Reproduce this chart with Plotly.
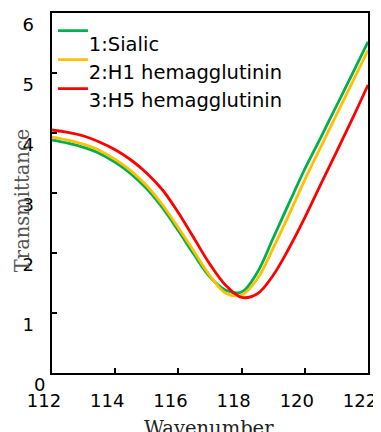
import plotly.graph_objects as go

# Data
wavenumber = [112, 112.5, 113, 113.5, 114, 114.5, 115, 115.5, 116, 116.5, 117,
              117.5, 118, 118.5, 119, 119.5, 120, 120.5, 121, 121.5, 122]
sialic = [3.88, 3.83, 3.76, 3.66, 3.51, 3.32, 3.07, 2.75, 2.37, 1.97, 1.60,
          1.38, 1.35, 1.68, 2.25, 2.83, 3.40, 3.92, 4.45, 4.98, 5.52]
h1 = [3.93, 3.88, 3.81, 3.71, 3.56, 3.37, 3.12, 2.80, 2.42, 2.02, 1.62,
      1.33, 1.30, 1.57, 2.08, 2.64, 3.22, 3.76, 4.30, 4.84, 5.38]
h5 = [4.05, 4.01, 3.95, 3.85, 3.72, 3.55, 3.33, 3.05, 2.67, 2.24, 1.81,
      1.46, 1.26, 1.32, 1.63, 2.08, 2.59, 3.14, 3.68, 4.23, 4.80]

series_names = ["1:Sialic", "2:H1 hemagglutinin", "3:H5 hemagglutinin"]
series_values = [sialic, h1, h5]
series_colors = ["#00b050", "#ffc000", "#ff0000"]

x_ticks = [112, 114, 116, 118, 120, 122]
x_tick_labels = ["112", "114", "116", "118", "120", "122"]
y_ticks = [0, 1, 2, 3, 4, 5, 6]
y_tick_labels = ["0", "1", "2", "3", "4", "5", "6"]

NBSP = "\u00a0"
# in the original the "0" label sits further right than the others
y_tick_text = [t if t == "0" else t + NBSP * 2 for t in y_tick_labels]

fig = go.Figure()

# real curves; their legend shows only the line samples
for name, vals, col in zip(series_names, series_values, series_colors):
    fig.add_trace(go.Scatter(
        x=wavenumber, y=vals, mode="lines", name=NBSP,
        line=dict(color=col, width=2.8, shape="spline", smoothing=1.0),
        legend="legend", showlegend=True,
    ))

# text-only legend entries (offset below the line samples as in the original)
for name in series_names:
    fig.add_trace(go.Scatter(
        x=[None], y=[None], mode="lines", name=name,
        line=dict(color="rgba(0,0,0,0)", width=0),
        legend="legend2", showlegend=True,
    ))

legend_font = dict(family="DejaVu Sans", size=19.5, color="black")
tick_font = dict(family="DejaVu Sans", size=18, color="black")

fig.update_layout(
    width=373, height=424,
    margin=dict(l=44, r=13, t=5, b=59, autoexpand=False),
    paper_bgcolor="white", plot_bgcolor="white",
    showlegend=True,
    legend=dict(
        x=0.003, y=1.005, xanchor="left", yanchor="top",
        bgcolor="rgba(0,0,0,0)",
        font=dict(family="DejaVu Sans", size=20.0, color="black"),
        tracegroupgap=0, itemwidth=30,
    ),
    legend2=dict(
        x=-0.010, y=0.970, xanchor="left", yanchor="top",
        bgcolor="rgba(0,0,0,0)", font=legend_font,
        tracegroupgap=0, itemwidth=30,
    ),
    xaxis=dict(
        range=[112, 122], tickvals=x_ticks, ticktext=x_tick_labels,
        ticks="inside", ticklen=5, tickwidth=1.5, tickcolor="black",
        showline=True, linewidth=2, linecolor="black", mirror=True,
        showgrid=False, zeroline=False, automargin=False,
        tickfont=tick_font,
        ticklabelstandoff=10, ticklabelshift=-8, ticklabeloverflow="allow",
    ),
    yaxis=dict(
        range=[0, 6], tickvals=y_ticks, ticktext=y_tick_text,
        ticks="inside", ticklen=5, tickwidth=1.5, tickcolor="black",
        showline=True, linewidth=2, linecolor="black", mirror=True,
        showgrid=False, zeroline=False, automargin=False,
        tickfont=tick_font,
        ticklabelstandoff=1, ticklabelshift=12, ticklabeloverflow="allow",
    ),
    annotations=[
        dict(text="Wavenumber", xref="paper", yref="paper", x=0.497, y=-0.1167,
             xanchor="center", yanchor="top", showarrow=False,
             font=dict(family="DejaVu Serif", size=19.5, color="#222")),
        dict(text="Transmittance", xref="paper", yref="paper", x=-0.095, y=0.48,
             xanchor="center", yanchor="middle", showarrow=False, textangle=-90,
             font=dict(family="DejaVu Serif", size=19.5, color="#555")),
    ],
)

fig.write_html("out.html")
